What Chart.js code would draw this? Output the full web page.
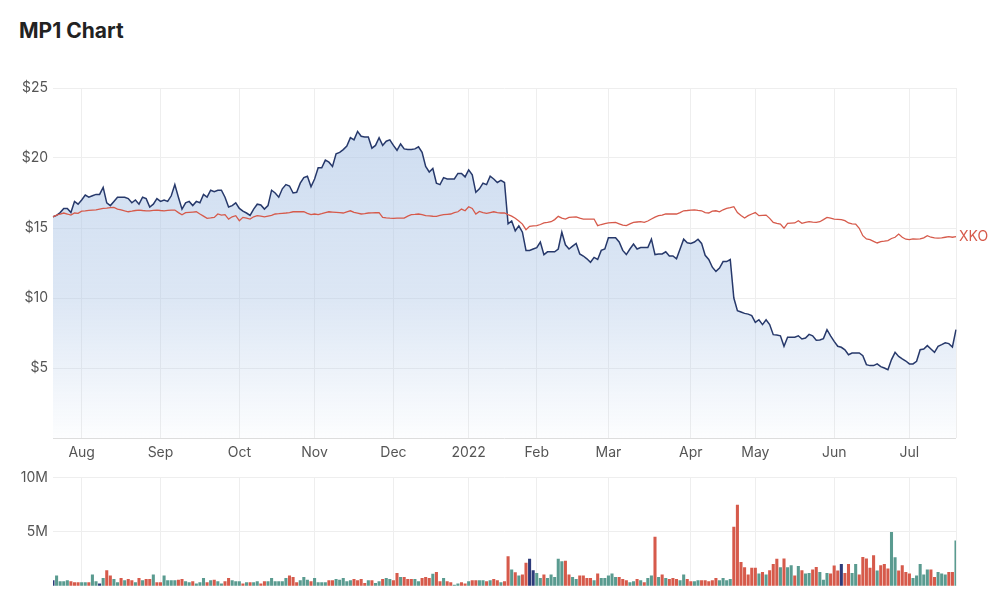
<!DOCTYPE html>
<html><head><meta charset="utf-8">
<script src="https://cdn.jsdelivr.net/npm/chart.js@4.4.0/dist/chart.umd.min.js"></script>
<style>
html,body{margin:0;padding:0;background:#fff;width:1000px;height:611px;overflow:hidden;}
#title{position:absolute;left:19px;top:19px;font:700 21px Inter, "Noto Sans", sans-serif;line-height:24px;color:#222;}
#c1{position:absolute;left:0;top:60px;}
#c2{position:absolute;left:0;top:464px;}
</style></head><body>
<div id="title">MP1 Chart</div>
<canvas id="c1" width="1000" height="404"></canvas>
<canvas id="c2" width="1000" height="147"></canvas>
<script>
// Month tick labels and the trading-day index where each month starts
const monthLabels = ['Aug','Sep','Oct','Nov','Dec','2022','Feb','Mar','Apr','May','Jun','Jul'];
const monthStarts = [8,30,52,73,95,116,135,155,178,196,218,239];
const priceTicks = [5,10,15,20,25];
const volumeTicks = [5,10];

// MP1 daily close (A$), 21 Jul 2021 - 20 Jul 2022
const mp1 = [
15.8,15.9,16.1,16.4,16.4,16.1,16.9,16.7,17.0,17.35,
17.2,17.3,17.4,17.4,17.9,16.8,16.6,16.9,17.2,17.2,
17.2,17.1,16.8,17.0,16.7,17.2,17.1,16.5,16.7,17.1,
16.9,17.0,16.9,17.3,18.1,17.2,16.35,16.8,16.9,16.6,
16.9,16.8,17.4,17.2,17.7,17.6,17.7,17.7,17.2,16.5,
16.6,16.8,16.4,16.2,16.07,15.9,16.35,16.7,16.65,16.35,
16.6,17.7,17.5,17.2,17.8,18.1,18.0,17.5,17.55,18.2,
18.6,18.7,17.95,18.5,19.3,19.3,19.85,19.7,19.4,20.3,
20.4,
20.6,20.85,21.45,21.3,21.9,21.55,21.5,21.5,20.7,20.9,
21.45,20.9,21.2,21.3,20.9,20.55,21.0,20.65,20.6,20.6,
20.65,20.8,20.4,19.4,19.0,19.25,18.2,18.1,18.6,18.5,
18.5,18.5,18.9,18.9,18.65,19.15,18.8,17.55,17.8,18.2,
18.1,18.7,18.5,18.25,18.4,18.25,15.3,15.5,14.8,15.15,
14.7,13.4,13.4,13.5,13.6,14.0,13.1,13.3,13.3,13.3,
13.5,14.7,13.8,13.5,13.7,13.9,13.15,13.0,12.8,12.55,
12.9,12.75,13.4,13.5,14.3,14.3,14.3,14.0,13.4,13.1,
13.5,13.85,13.5,13.6,13.6,13.6,14.2,13.1,13.15,13.15,
13.3,13.0,
13.0,12.8,13.5,14.2,13.95,13.9,14.0,14.2,
13.9,13.05,12.75,12.2,11.9,12.14,12.6,12.6,12.75,10.0,
9.1,9.0,8.9,8.85,8.74,8.26,8.45,8.1,8.45,8.1,
7.38,7.35,7.3,6.55,7.2,7.2,7.2,7.3,7.07,7.14,
7.4,7.3,6.98,7.0,7.1,7.74,7.3,6.9,6.55,6.48,
6.3,5.95,6.07,6.07,6.07,5.88,5.24,5.17,5.17,5.3,
5.1,5.0,4.88,5.6,6.12,5.83,5.65,5.5,5.29,5.29,
5.48,6.31,6.36,6.6,6.36,6.12,6.55,6.67,6.8,6.74,
6.5,7.74
];

// XKO index rebased to MP1's starting price
const xko = [
15.8,15.92,16.0,16.07,16.0,15.92,16.07,16.05,16.2,16.22,
16.26,16.28,16.3,16.35,16.4,16.42,16.45,16.47,16.35,16.3,
16.22,16.16,16.2,16.25,16.28,16.25,16.23,16.23,16.26,16.28,
16.25,16.23,16.26,16.28,16.28,16.1,15.95,16.1,16.12,16.14,
16.16,16.0,15.85,15.69,15.72,15.76,16.0,15.92,15.95,15.64,
15.8,15.88,15.52,15.76,15.7,15.64,15.8,15.88,15.85,15.8,
15.85,15.9,16.0,16.02,16.05,16.07,16.1,16.16,16.16,16.16,
16.16,16.05,15.95,16.0,15.95,16.02,16.1,16.16,16.14,16.12,
16.1,
16.07,16.15,16.23,16.12,16.07,16.0,16.03,16.07,16.08,16.09,
16.1,15.76,15.72,15.7,15.69,15.7,15.7,15.71,15.85,15.95,
15.97,16.0,15.95,15.88,15.86,15.84,15.83,15.9,15.95,15.98,
16.0,16.1,16.16,16.35,16.23,16.52,16.4,16.0,16.18,16.1,
16.04,16.1,16.16,16.1,16.07,16.07,15.95,15.85,15.7,15.5,
15.28,14.88,15.12,15.15,15.17,15.25,15.36,15.4,15.45,15.6,
15.83,15.7,15.64,15.76,15.78,15.8,15.7,15.64,15.64,15.64,
15.64,15.17,15.25,15.32,15.36,15.38,15.4,15.3,15.2,15.17,
15.3,15.4,15.43,15.45,15.4,15.5,15.64,15.78,15.88,15.92,
16.0,16.0,
16.0,16.0,16.1,16.23,16.25,16.28,16.3,16.26,
16.23,16.1,16.07,16.2,16.23,16.16,16.3,16.4,16.45,16.52,
16.1,15.9,15.71,15.88,16.0,16.1,15.88,15.9,15.92,15.69,
15.4,15.33,15.28,14.98,15.33,15.35,15.36,15.52,15.33,15.4,
15.45,15.42,15.4,15.45,15.6,15.76,15.7,15.64,15.62,15.6,
15.52,15.36,15.3,15.28,14.98,14.45,14.22,14.17,14.05,13.93,
14.03,14.06,14.1,14.25,14.34,14.57,14.34,14.2,14.17,14.22,
14.2,14.22,14.3,14.45,14.34,14.3,14.27,14.3,14.34,14.38,
14.34,14.38
];

// Daily volume, millions of shares
const volumeM = [
0.5,0.93,0.4,0.4,0.49,0.4,0.31,0.31,0.31,0.31,
0.31,1.02,0.4,0.19,0.71,1.42,0.93,0.62,0.31,0.71,
0.49,0.62,0.49,0.31,0.71,0.49,0.62,0.62,1.02,0.31,
0.31,0.93,0.49,0.49,0.49,0.55,0.62,0.4,0.31,0.4,
0.19,0.31,0.71,0.31,0.49,0.55,0.4,0.19,0.4,0.71,
0.49,0.4,0.4,0.19,0.31,0.31,0.31,0.4,0.19,0.4,
0.4,0.71,0.4,0.4,0.4,0.71,0.93,0.8,0.31,0.49,
0.8,0.55,0.4,0.71,0.31,0.31,0.31,0.49,0.49,0.62,
0.55,
0.71,0.4,0.49,0.62,0.49,0.62,0.25,0.49,0.49,0.25,
0.4,0.62,0.71,0.62,0.49,1.17,0.8,0.8,0.62,0.62,
0.62,0.4,0.71,0.8,0.71,1.1,1.27,0.4,0.71,0.4,
0.31,0.09,0.19,0.31,0.19,0.4,0.49,0.49,0.49,0.49,
0.4,0.49,0.62,0.49,0.31,0.4,2.7,1.48,1.23,0.93,
1.02,2.1,2.47,1.42,1.17,0.71,1.02,0.71,1.02,0.8,
2.47,2.25,2.3,1.02,0.8,0.62,0.93,0.93,0.71,0.71,
0.49,1.11,0.71,0.71,0.93,1.11,0.8,0.8,0.62,0.49,
0.31,0.4,0.62,0.49,0.31,0.71,0.93,4.5,0.8,1.02,
0.71,0.62,
0.71,0.62,0.49,1.02,0.62,0.4,0.4,0.49,
0.49,0.49,0.4,0.49,0.71,0.49,0.71,0.49,0.62,5.43,
7.44,2.19,1.7,1.02,1.64,1.64,1.11,1.27,1.02,1.42,
2.0,2.47,1.7,2.5,1.7,1.88,0.93,1.8,1.42,1.11,
1.17,1.48,1.73,1.27,0.55,1.17,1.11,1.85,1.39,2.0,
1.17,2.0,1.17,2.0,1.02,2.65,2.5,1.64,2.8,1.39,
1.88,2.0,1.58,4.94,2.62,1.39,1.88,1.27,1.11,0.71,
0.93,2.0,1.02,1.48,1.48,0.8,1.27,1.11,1.02,1.27,
1.27,4.17
];

// Bar colour code per day: t = up (teal), r = down (red), n = unchanged (navy)
const volumeDir = (
'nttttrrrtt'+'rttntrrttr'+'trrtrtrrtr'+'rttttrrttr'+'tttrtrttrr'+'tttrtrttrr'+'ttttttrrrt'+'ttrttttrrt'+'t'+
'tttrrrrtrt'+'trttrrtrrr'+'ttrrrtrrtr'+'rttrrtrrtt'+'rtrrtrrtrt'+'rrnnttrttt'+'ttrrttrrrr'+'trtttttrrr'+'ttrtrttrtr'+'tr'+
'rrttrrtt'+'rrrrrttttr'+'rrrrrrtrtr'+'rrtrttrtrt'+'trrtttrrrn'+'rrttrrrrrt'+'rrrttrrrrt'+'ttttrrtttr'+'rt'
).split('');

const labels = mp1.map((_, i) => i);
const lastIdx = mp1.length - 1;
const dirColors = { t: '#5a9b90', r: '#d65a4b', n: '#2d3b7a' };

const FONT = { family: 'Inter, "Noto Sans", sans-serif', size: 14 };
const TICK_COLOR = '#555';
const GRID = '#eeeeee';

function monthTicks(scale) {
  scale.ticks = monthStarts.concat([lastIdx]).map(v => ({ value: v }));
}
function monthLabel(value) {
  const k = monthStarts.indexOf(value);
  return k >= 0 ? monthLabels[k] : '';
}

const xkoLabel = {
  id: 'xkoLabel',
  afterDatasetsDraw(chart) {
    const meta = chart.getDatasetMeta(0);
    const pt = meta.data[meta.data.length - 1];
    const ctx = chart.ctx;
    ctx.save();
    ctx.font = '14px Inter, "Noto Sans", sans-serif';
    ctx.fillStyle = '#d65a4b';
    ctx.textBaseline = 'middle';
    ctx.textAlign = 'left';
    ctx.fillText('XKO', pt.x + 3, pt.y);
    ctx.restore();
  }
};

new Chart(document.getElementById('c1'), {
  type: 'line',
  data: {
    labels,
    datasets: [
      {
        label: 'XKO', data: xko, order: 0,
        borderColor: '#d65a4b', borderWidth: 1.3, pointRadius: 0, tension: 0, fill: false
      },
      {
        label: 'MP1', data: mp1, order: 1,
        borderColor: '#27396b', borderWidth: 1.5, pointRadius: 0, tension: 0,
        fill: 'origin',
        backgroundColor: (ctx) => {
          const area = ctx.chart.chartArea;
          if (!area) return 'rgba(172,197,230,0.4)';
          const g = ctx.chart.ctx.createLinearGradient(0, area.top, 0, area.bottom);
          g.addColorStop(0, 'rgba(172,197,230,0.62)');
          g.addColorStop(0.6, 'rgba(172,197,230,0.42)');
          g.addColorStop(1, 'rgba(172,197,230,0.03)');
          return g;
        }
      }
    ]
  },
  options: {
    responsive: false, animation: false, devicePixelRatio: 1,
    layout: { padding: { top: 28, right: 44, left: 0, bottom: 0 } },
    plugins: { legend: { display: false }, tooltip: { enabled: false } },
    scales: {
      x: {
        type: 'category', offset: false,
        afterBuildTicks: monthTicks,
        afterFit: (s) => { s.height = 26; },
        ticks: { autoSkip: false, maxRotation: 0, padding: 6, color: TICK_COLOR, font: FONT, callback: monthLabel },
        grid: { color: GRID, drawTicks: false, offset: false },
        border: { display: false }
      },
      y: {
        min: 0, max: 25,
        afterBuildTicks: (s) => { s.ticks = [0].concat(priceTicks).map(v => ({ value: v })); },
        afterFit: (s) => { s.width = 53; },
        ticks: { padding: 5, color: TICK_COLOR, font: FONT, callback: (v) => v === 0 ? '' : '$' + v },
        grid: { color: (c) => c.tick && c.tick.value === 0 ? '#dddddd' : GRID, drawTicks: false },
        border: { display: false }
      }
    }
  },
  plugins: [xkoLabel]
});

new Chart(document.getElementById('c2'), {
  type: 'bar',
  data: {
    labels,
    datasets: [{
      label: 'Volume', data: volumeM,
      backgroundColor: volumeDir.map(d => dirColors[d]),
      barThickness: 2.4, borderWidth: 0
    }]
  },
  options: {
    responsive: false, animation: false, devicePixelRatio: 1,
    layout: { padding: { top: 2, right: 44, left: 0, bottom: 25 } },
    plugins: { legend: { display: false }, tooltip: { enabled: false } },
    scales: {
      x: {
        type: 'category', offset: false,
        afterBuildTicks: monthTicks,
        afterFit: (s) => { s.height = 0; },
        ticks: { display: false },
        grid: { color: GRID, drawTicks: false, offset: false },
        border: { display: false }
      },
      y: {
        min: 0, max: 10,
        afterBuildTicks: (s) => { s.ticks = [0].concat(volumeTicks).map(v => ({ value: v })); },
        afterFit: (s) => { s.width = 53; },
        ticks: { padding: 5, color: TICK_COLOR, font: FONT, callback: (v) => v === 0 ? '' : v + 'M' },
        grid: { color: (c) => c.tick && c.tick.value === 0 ? 'rgba(0,0,0,0)' : GRID, drawTicks: false },
        border: { display: false }
      }
    }
  }
});
</script>
</body></html>
